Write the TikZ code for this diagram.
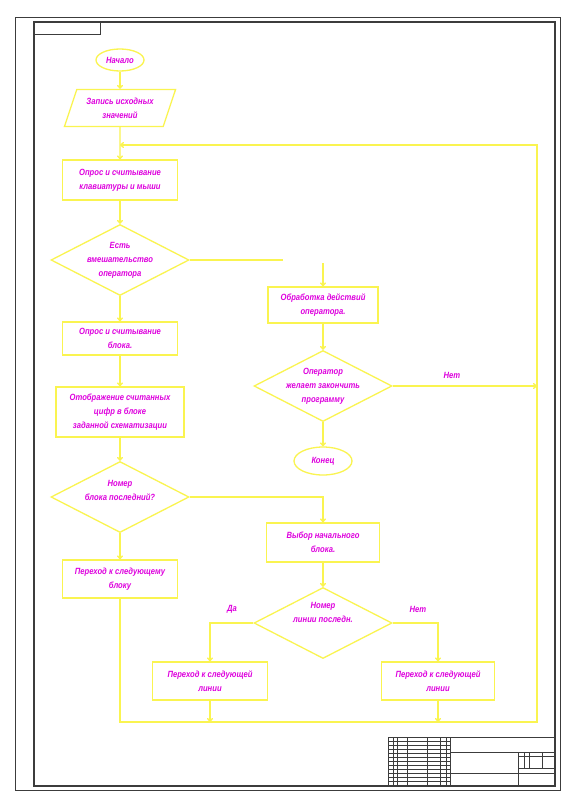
\documentclass[tikz,border=0pt]{standalone}
\usepackage{fontspec}
\setmainfont{Liberation Sans}
\newfontfamily\cfont[FakeStretch=0.85]{Liberation Sans}
\usetikzlibrary{shapes.geometric,arrows.meta}
\definecolor{lyellow}{RGB}{250,244,80}
\definecolor{lmagenta}{RGB}{222,0,222}
\definecolor{frm}{RGB}{60,60,60}

\tikzset{
	txt/.style = {text=lmagenta, align=center, inner sep=1pt,
		font=\cfont\bfseries\itshape\fontsize{9}{14}\selectfont},
	blk/.style = {txt, draw=lyellow, line width=1.3pt},
	box/.style = {blk, rectangle},
	dia/.style = {draw=lyellow, line width=1.3pt, diamond, inner sep=0pt, minimum width=138, minimum height=71},
	oval/.style = {blk, ellipse},
	con/.style = {draw=lyellow, line width=1.3pt},
	arr/.style = {con, -{To[length=4pt,width=6pt]}}
}

\begin{document}
\begin{tikzpicture}[x=1pt, y=-1pt]
	\useasboundingbox (0,0) rectangle (578,800);
	\fill[white] (0,0) rectangle (578,800);

	% sheet frame
	\draw[frm, line width=0.8pt] (15,17) rectangle (560,790);
	\draw[frm, line width=1.4pt] (34,22) rectangle (555,786);
	\draw[frm, line width=0.8pt] (34,34) -- (100,34) -- (100,22);

	% title block
	\draw[frm, line width=0.8pt] (388,786) -- (388,737) -- (555,737);
	\draw[frm, line width=0.8pt] (450,737) -- (450,786);
	\draw[frm, line width=0.8pt] (450,752) -- (555,752);
	\draw[frm, line width=0.8pt] (388,773) -- (555,773);
	\draw[frm, line width=0.8pt] (518,752) -- (518,786);
	\foreach \y in {741,745,749,753,757,761,765,769,777,781} {
		\draw[frm, line width=0.4pt] (388,\y) -- (450,\y);
	}
	\foreach \x in {393,397,407,427,440,446} {
		\draw[frm, line width=0.5pt] (\x,737) -- (\x,786);
	}
	\draw[frm, line width=0.4pt] (518,756) -- (555,756);
	\draw[frm, line width=0.4pt] (518,768) -- (555,768);
	\foreach \x in {524,529,542} {
		\draw[frm, line width=0.4pt] (\x,752) -- (\x,768);
	}

	% left column
	\node[oval, minimum width=48, minimum height=22, inner sep=0pt] (start) at (120,60) {Начало};
	\node[blk, trapezium, trapezium left angle=65, trapezium right angle=115,
		trapezium stretches=true, minimum width=112, minimum height=37, inner sep=0pt] (init) at (120,108) {Запись исходных\\значений};
	\node[box, minimum width=115, minimum height=40] (poll) at (120,180) {Опрос и считывание\\клавиатуры и мыши};
	\node[dia] (op) at (120,260) {};
	\node[txt] (opt) at (op) {Есть\\вмешательство\\оператора};
	\node[box, minimum width=115, minimum height=33] (read) at (120,338.5) {Опрос и считывание\\блока.};
	\node[box, minimum width=128, minimum height=50] (show) at (120,412) {Отображение считанных\\цифр в блоке\\заданной схематизации};
	\node[dia] (last) at (120,497) {};
	\node[txt] (lastt) at (120,490) {Номер\\блока последний?};
	\node[box, minimum width=115, minimum height=38] (next) at (120,579) {Переход к следующему\\блоку};

	% right column
	\node[box, minimum width=110, minimum height=36] (act) at (323,305) {Обработка действий\\оператора.};
	\node[dia] (quit) at (323,386) {};
	\node[txt] (quitt) at (quit) {Оператор\\желает закончить\\программу};
	\node[oval, minimum width=58, minimum height=28, inner sep=0pt] (end) at (323,461) {Конец};
	\node[box, minimum width=113, minimum height=39] (sel) at (323,542.5) {Выбор начального\\блока.};
	\node[dia] (line) at (323,623) {};
	\node[txt] (linet) at (323,612) {Номер\\линии последн.};
	\node[box, minimum width=115, minimum height=38] (nl1) at (210,681) {Переход к следующей\\линии};
	\node[box, minimum width=113, minimum height=38] (nl2) at (438,681) {Переход к следующей\\линии};

	\node[txt] (no1) at (452,375) {Нет};
	\node[txt] (yes) at (232,609) {Да};
	\node[txt] (no2) at (418,609) {Нет};

	\coordinate (gapl) at (283,260);
	\coordinate (gapr) at (323,263);
	\coordinate (join) at (120,145);
	\coordinate (bl) at (120,722);
	\coordinate (br) at (537,722);
	\coordinate (tr) at (537,145);

	% connectors
	\draw[arr] (start) -- (init);
	\draw[arr] (init) -- (poll);
	\draw[arr] (poll) -- (op);
	\draw[arr] (op) -- (read);
	\draw[arr] (read) -- (show);
	\draw[arr] (show) -- (last);
	\draw[arr] (last) -- (next);
	\draw[con] (op.east) -- (gapl);
	\draw[arr] (gapr) -- (act);
	\draw[arr] (act) -- (quit);
	\draw[arr] (quit) -- (end);
	\draw[arr] (quit.east) -- (537,386);
	\draw[arr] (last.east) -| (sel.north);
	\draw[arr] (sel) -- (line);
	\draw[arr] (line.west) -| (nl1.north);
	\draw[arr] (line.east) -| (nl2.north);
	\draw[arr] (nl1.south) -- (210,722);
	\draw[arr] (nl2.south) -- (438,722);
	\draw[arr] (next.south) -- (bl) -- (br) -- (tr) -- (join);
\end{tikzpicture}
\end{document}
